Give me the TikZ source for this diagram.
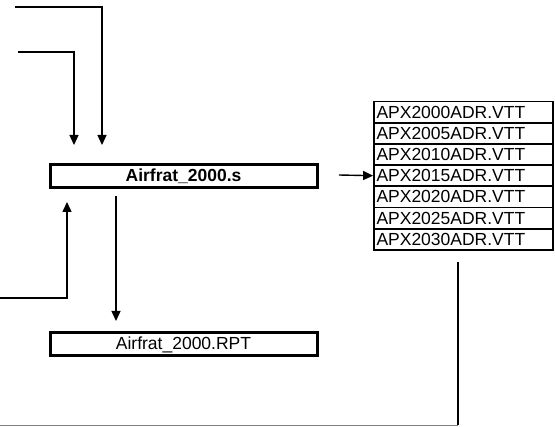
\documentclass[tikz,border=0pt]{standalone}
\usepackage{fontspec}
\setmainfont{Liberation Sans}
\usetikzlibrary{positioning,arrows.meta}
\tikzset{
  filebox/.style={draw,line width=3pt,minimum width=267pt,minimum height=23pt,inner sep=1pt,
    font=\fontsize{17.5}{20}\selectfont},
  vttbox/.style={draw,line width=1.8pt,minimum width=179pt,minimum height=21.3pt,inner xsep=2pt,inner ysep=0pt,
    text width=174pt,align=left,font=\fontsize{17.5}{20}\selectfont},
  arr/.style={-{Triangle[length=10pt,width=9pt]},line width=1.4pt},
  wire/.style={line width=1.4pt}}
\begin{document}
\begin{tikzpicture}[x=1pt,y=-1pt]
\useasboundingbox (0,0) rectangle (555,427);
% source and report files
\node[filebox,font=\fontsize{17.5}{20}\selectfont\bfseries] (src) at (183.5,176.5) {Airfrat\_2000.s};
\node[filebox] (rpt) at (183.5,344.5) {Airfrat\_2000.RPT};
% vtt files
\foreach \yr [count=\i] in {2000,2005,2010,2015,2020,2025,2030}
  \node[vttbox] (vtt\i) at (463.5,{101.5+21.2*(\i-0.5)}) {APX\yr ADR.VTT};
% free ends
\coordinate (inA) at (15,7);   \coordinate (tipA) at (102,145);
\coordinate (inB) at (18,52);  \coordinate (tipB) at (74,145);
\coordinate (inC) at (0,298);  \coordinate (tipC) at (67,202);
\coordinate (outD) at (116,196); \coordinate (tipD) at (116,321);
\coordinate (outS) at (339,175);
\coordinate (retA) at (458,262); \coordinate (retB) at (458,425.5); \coordinate (retC) at (0,425.5);
\draw[arr] (inA) -| (tipA);
\draw[arr] (inB) -| (tipB);
\draw[arr] (inC) -| (tipC);
\draw[arr] (outD) -- (tipD);
\draw[arr] (outS) -- (vtt4.west);
\draw[wire] (retA) -- (retB);
\draw[wire,draw=gray] (retB) -- (retC);
\end{tikzpicture}
\end{document}
